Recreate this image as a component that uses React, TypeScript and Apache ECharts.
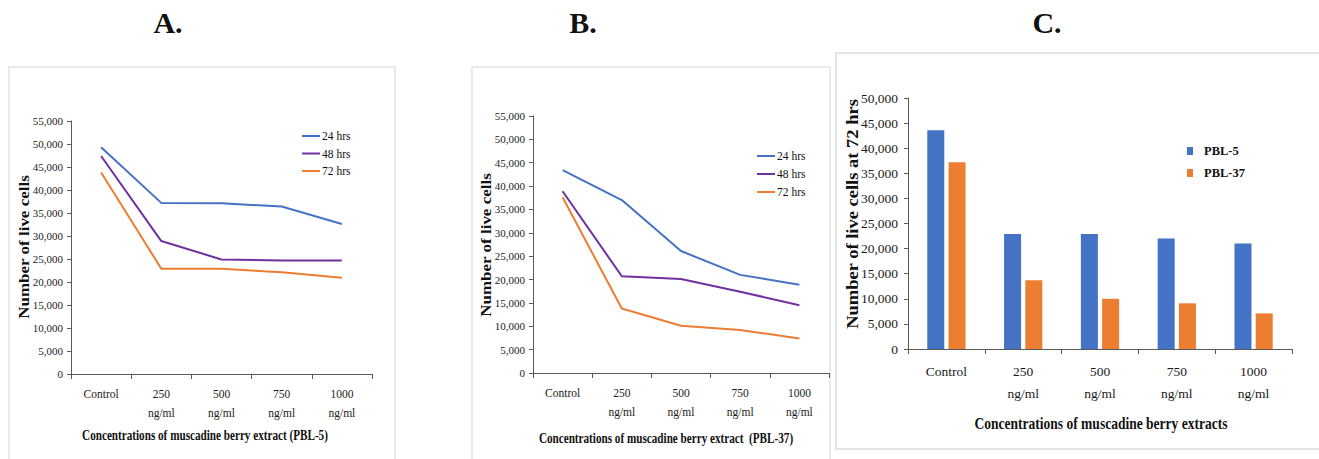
import React, { useEffect, useRef } from "react";
import * as echarts from "echarts";

const categories = ["Control", "250\nng/ml", "500\nng/ml", "750\nng/ml", "1000\nng/ml"];
const timeNames = ["24 hrs", "48 hrs", "72 hrs"];
const pbl5_24 = [49300, 37200, 37100, 36400, 32600];
const pbl5_48 = [47400, 28900, 24900, 24700, 24700];
const pbl5_72 = [43800, 22900, 22900, 22100, 20900];
const pbl37_24 = [43400, 37000, 26100, 21000, 18900];
const pbl37_48 = [38900, 20700, 20100, 17400, 14500];
const pbl37_72 = [37600, 13800, 10100, 9200, 7400];
const barNames = ["PBL-5", "PBL-37"];
const bar_pbl5 = [43600, 22900, 22900, 22000, 21000];
const bar_pbl37 = [37200, 13700, 10000, 9100, 7100];

const FONT = "Liberation Serif";
const BLUE = "#4472C4";
const PURPLE = "#7030A0";
const ORANGE = "#ED7D31";
const AXIS = "#595959";

const fmt = (v: number) => v.toLocaleString("en-US");

function yAxis(gridIndex: number, max: number, fontSize: number, margin: number) {
  return {
    type: "value",
    gridIndex,
    min: 0,
    max,
    interval: 5000,
    splitLine: { show: false },
    axisLine: { show: true, lineStyle: { color: AXIS, width: 1 } },
    axisTick: { show: true, length: 4, lineStyle: { color: AXIS } },
    axisLabel: { formatter: fmt, fontFamily: FONT, fontSize, color: "#1a1a1a", margin },
  };
}

function xAxis(gridIndex: number, fontSize: number, lineHeight: number, margin: number) {
  return {
    type: "category",
    gridIndex,
    data: categories,
    boundaryGap: true,
    axisLine: { show: true, lineStyle: { color: AXIS, width: 1 } },
    axisTick: { show: true, length: 5, alignWithLabel: false, lineStyle: { color: AXIS } },
    axisLabel: { fontFamily: FONT, fontSize, lineHeight, color: "#1a1a1a", margin, interval: 0 },
  };
}

function lineSeries(name: string, data: number[], color: string, idx: number) {
  return {
    type: "line",
    name,
    data,
    xAxisIndex: idx,
    yAxisIndex: idx,
    symbol: "none",
    showSymbol: false,
    lineStyle: { color, width: 2 },
    itemStyle: { color },
  };
}

function textEl(x: number, y: number, text: string, size: number, extra: any = {}) {
  return {
    type: "text",
    x,
    y,
    ...extra,
    style: {
      text,
      fontFamily: FONT,
      fontSize: size,
      fontWeight: "bold",
      fill: "#111",
      textAlign: "center",
      verticalAlign: "middle",
    },
  };
}

export default function App() {
  const ref = useRef<HTMLDivElement>(null);
  useEffect(() => {
    if (!ref.current) return;
    const chart = echarts.init(ref.current, undefined, { renderer: "svg" });
    const legendText = { fontFamily: FONT, fontSize: 11.5, color: "#111", lineHeight: 12 };
    chart.setOption({
      animation: false,
      backgroundColor: "#fff",
      textStyle: { fontFamily: FONT },
      grid: [
        { left: 71, top: 121, width: 301, height: 253, outerBoundsMode: "none" },
        { left: 533, top: 116, width: 296, height: 257, outerBoundsMode: "none" },
        { left: 908, top: 98, width: 384, height: 251, outerBoundsMode: "none" },
      ],
      xAxis: [xAxis(0, 11.5, 19, 10), xAxis(1, 11.5, 19, 10), xAxis(2, 13.5, 22, 11)],
      yAxis: [yAxis(0, 55000, 11, 8), yAxis(1, 55000, 11, 8), yAxis(2, 50000, 13.5, 10)],
      legend: [
        {
          data: timeNames,
          orient: "vertical",
          left: 302,
          top: 130,
          padding: 0,
          icon: "rect",
          itemWidth: 18,
          itemHeight: 2,
          itemGap: 5.5,
          textStyle: { ...legendText, padding: [0, 0, 0, -3] },
        },
        {
          data: timeNames,
          orient: "vertical",
          left: 757,
          top: 150,
          padding: 0,
          icon: "rect",
          itemWidth: 18,
          itemHeight: 2,
          itemGap: 6,
          textStyle: { ...legendText, padding: [0, 0, 0, -3] },
        },
        {
          data: barNames,
          orient: "vertical",
          left: 1187,
          top: 144,
          padding: 0,
          icon: "rect",
          itemWidth: 6,
          itemHeight: 8,
          itemGap: 8,
          textStyle: { fontFamily: FONT, fontSize: 12.5, fontWeight: "bold", color: "#111", lineHeight: 14, padding: [0, 0, 0, 6] },
        },
      ],
      series: [
        lineSeries(timeNames[0], pbl5_24, BLUE, 0),
        lineSeries(timeNames[1], pbl5_48, PURPLE, 0),
        lineSeries(timeNames[2], pbl5_72, ORANGE, 0),
        lineSeries(timeNames[0], pbl37_24, BLUE, 1),
        lineSeries(timeNames[1], pbl37_48, PURPLE, 1),
        lineSeries(timeNames[2], pbl37_72, ORANGE, 1),
        {
          type: "bar",
          name: barNames[0],
          data: bar_pbl5,
          xAxisIndex: 2,
          yAxisIndex: 2,
          barWidth: 17,
          barGap: "25%",
          itemStyle: { color: BLUE },
        },
        {
          type: "bar",
          name: barNames[1],
          data: bar_pbl37,
          xAxisIndex: 2,
          yAxisIndex: 2,
          barWidth: 17,
          barGap: "25%",
          itemStyle: { color: ORANGE },
        },
      ],
      graphic: [
        { type: "rect", shape: { x: 9, y: 67, width: 386, height: 420 }, style: { fill: "none", stroke: "#e4e4e4", lineWidth: 1.5 }, z: -1 },
        { type: "rect", shape: { x: 472, y: 67, width: 358, height: 420 }, style: { fill: "none", stroke: "#e4e4e4", lineWidth: 1.5 }, z: -1 },
        { type: "rect", shape: { x: 836, y: 53, width: 520, height: 396 }, style: { fill: "none", stroke: "#e4e4e4", lineWidth: 2 }, z: -1 },
        textEl(168, 22, "A.", 30),
        textEl(583, 22, "B.", 30),
        textEl(1047, 22, "C.", 30),
        textEl(24, 247, "Number of live cells", 17, { rotation: Math.PI / 2, scaleY: 0.8 }),
        textEl(486, 245, "Number of live cells", 17, { rotation: Math.PI / 2, scaleY: 0.8 }),
        textEl(853, 214, "Number of live cells at 72 hrs", 18.5, { rotation: Math.PI / 2, scaleY: 0.85 }),
        textEl(205, 435, "Concentrations of muscadine berry extract (PBL-5)", 14.5, { scaleX: 0.77 }),
        textEl(666, 438, "Concentrations of muscadine berry extract  (PBL-37)", 14.5, { scaleX: 0.77 }),
        textEl(1101, 424, "Concentrations of muscadine berry extracts", 16.5, { scaleX: 0.82 }),
      ],
    });
    return () => chart.dispose();
  }, []);
  return (
    <div
      ref={ref}
      style={{ position: "fixed", left: 0, top: 0, width: 1319, height: 459, background: "#fff" }}
    />
  );
}
